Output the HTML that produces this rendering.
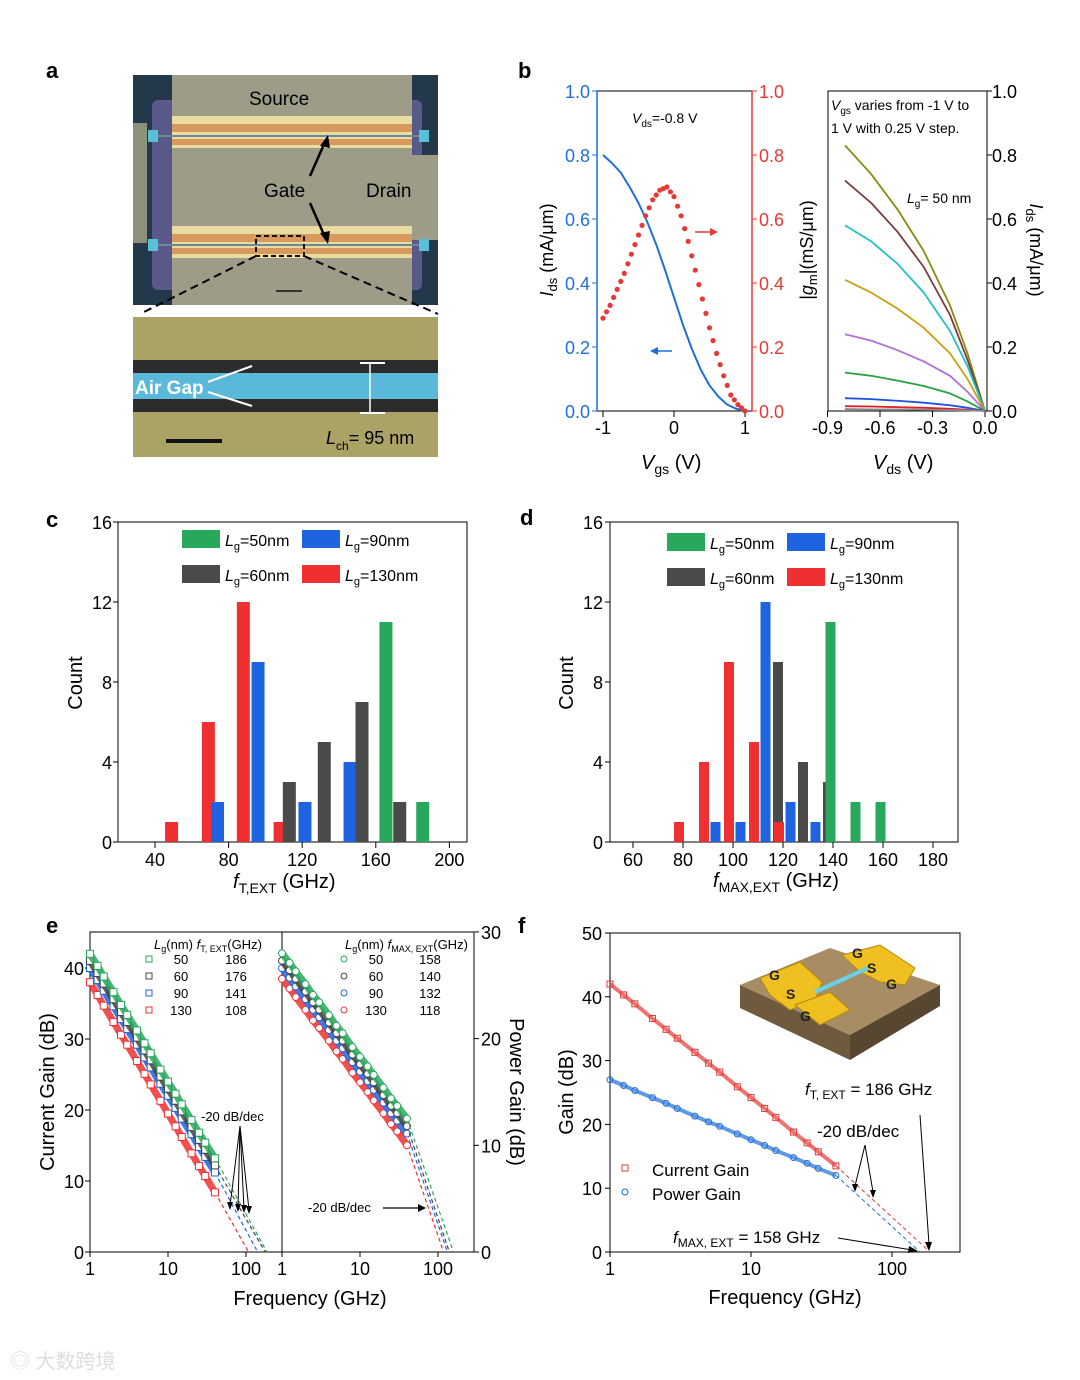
<!DOCTYPE html>
<html><head><meta charset="utf-8"><style>
html,body{margin:0;padding:0;background:#fff;}
svg{display:block;font-family:"Liberation Sans",Arial,sans-serif;}
</style></head><body>
<svg id="fig" width="1080" height="1380" viewBox="0 0 1080 1380" xmlns="http://www.w3.org/2000/svg">
<g font-size="22" font-weight="bold">
<text x="46" y="78">a</text>
<text x="518" y="78">b</text>
<text x="46" y="527">c</text>
<text x="520" y="525">d</text>
<text x="46" y="933">e</text>
<text x="518" y="933">f</text>
</g>
<!-- panel a -->
<g>
<rect x="133" y="75" width="305" height="230" fill="#23384a"/>
<rect x="152" y="100" width="270" height="190" rx="6" fill="#5a5a8a"/>
<rect x="133" y="123" width="14" height="120" fill="#8c917c"/>
<rect x="172" y="75" width="240" height="230" fill="#9c9c88"/>
<rect x="412" y="155" width="26" height="85" fill="#9c9c88"/>
<rect x="172" y="116" width="240" height="32" fill="#eadca0"/>
<rect x="172" y="124" width="240" height="8" fill="#d89a5c"/>
<rect x="172" y="139" width="240" height="6" fill="#d89a5c"/>
<rect x="172" y="226" width="240" height="32" fill="#eadca0"/>
<rect x="172" y="234" width="240" height="8" fill="#d89a5c"/>
<rect x="172" y="248" width="240" height="6" fill="#d89a5c"/>
<line x1="152" y1="136" x2="425" y2="136" stroke="#6a8a98" stroke-width="2"/>
<line x1="152" y1="245" x2="425" y2="245" stroke="#6a8a98" stroke-width="2"/>
<rect x="148" y="130" width="10" height="12" fill="#5ac0d8"/>
<rect x="419" y="130" width="10" height="12" fill="#5ac0d8"/>
<rect x="148" y="239" width="10" height="12" fill="#5ac0d8"/>
<rect x="419" y="239" width="10" height="12" fill="#5ac0d8"/>
<rect x="256" y="236" width="48" height="20" fill="none" stroke="#111" stroke-width="2" stroke-dasharray="5,3"/>
<line x1="276" y1="291" x2="302" y2="291" stroke="#333" stroke-width="2"/>
<text x="249" y="105" font-size="19">Source</text>
<text x="264" y="197" font-size="19">Gate</text>
<text x="366" y="197" font-size="19">Drain</text>
<line x1="310" y1="176" x2="325" y2="142" stroke="#000" stroke-width="2.5"/>
<polygon points="328,135 320,146 330,148" fill="#000"/>
<line x1="310" y1="203" x2="325" y2="237" stroke="#000" stroke-width="2.5"/>
<polygon points="328,244 320,233 330,231" fill="#000"/>
<line x1="256" y1="256" x2="140" y2="314" stroke="#000" stroke-width="2" stroke-dasharray="8,5"/>
<line x1="304" y1="256" x2="438" y2="314" stroke="#000" stroke-width="2" stroke-dasharray="8,5"/>
</g>
<g>
<rect x="133" y="317" width="305" height="140" fill="#a89a60"/>
<rect x="133" y="317" width="305" height="140" fill="#b0b070" opacity="0.4"/>
<rect x="133" y="360" width="305" height="52" fill="#2c2c2c"/>
<rect x="133" y="373" width="305" height="26" fill="#5ab8d8"/>
<line x1="370" y1="363" x2="370" y2="413" stroke="#fff" stroke-width="1.5"/>
<line x1="360" y1="363" x2="385" y2="363" stroke="#fff" stroke-width="2"/>
<line x1="360" y1="413" x2="385" y2="413" stroke="#fff" stroke-width="2"/>
<text x="135" y="394" font-size="19" font-weight="bold" fill="#fff">Air Gap</text>
<line x1="208" y1="382" x2="252" y2="366" stroke="#fff" stroke-width="2"/>
<line x1="208" y1="392" x2="252" y2="406" stroke="#fff" stroke-width="2"/>
<line x1="166" y1="441" x2="222" y2="441" stroke="#111" stroke-width="4"/>
<text x="326" y="444" font-size="18"><tspan font-style="italic">L</tspan><tspan font-size="12" dy="6">ch</tspan><tspan dy="-6">= 95 nm</tspan></text>
</g>
<!-- panel b text -->
<g font-size="18">
<text x="632" y="123" font-size="14"><tspan font-style="italic">V</tspan><tspan font-size="10" dy="4">ds</tspan><tspan dy="-4">=-0.8 V</tspan></text>
<text transform="translate(553,250) rotate(-90)" text-anchor="middle"><tspan font-style="italic">I</tspan><tspan font-size="13" dy="4">ds</tspan><tspan dy="-4"> (mA/μm)</tspan></text>
<text transform="translate(813,250) rotate(-90)" text-anchor="middle">|<tspan font-style="italic">g</tspan><tspan font-size="13" dy="4">m</tspan><tspan dy="-4">|(mS/μm)</tspan></text>
<text x="641" y="469" font-size="20"><tspan font-style="italic">V</tspan><tspan font-size="14" dy="5">gs</tspan><tspan dy="-5"> (V)</tspan></text>
<text x="873" y="469" font-size="20"><tspan font-style="italic">V</tspan><tspan font-size="14" dy="5">ds</tspan><tspan dy="-5"> (V)</tspan></text>
<text transform="translate(1030,250) rotate(90)" text-anchor="middle"><tspan font-style="italic">I</tspan><tspan font-size="13" dy="4">ds</tspan><tspan dy="-4"> (mA/μm)</tspan></text>
<text x="831" y="110" font-size="14"><tspan font-style="italic">V</tspan><tspan font-size="10" dy="4">gs</tspan><tspan dy="-4"> varies from -1 V to</tspan></text>
<text x="831" y="133" font-size="14">1 V with 0.25 V step.</text>
<text x="907" y="203" font-size="14"><tspan font-style="italic">L</tspan><tspan font-size="10" dy="4">g</tspan><tspan dy="-4">= 50 nm</tspan></text>
</g>
<!-- panel c/d labels -->
<g font-size="20">
<text transform="translate(82,683) rotate(-90)" text-anchor="middle">Count</text>
<text x="233" y="888"><tspan font-style="italic">f</tspan><tspan font-size="14" dy="5">T,EXT</tspan><tspan dy="-5"> (GHz)</tspan></text>
<text transform="translate(573,683) rotate(-90)" text-anchor="middle">Count</text>
<text x="713" y="887"><tspan font-style="italic">f</tspan><tspan font-size="14" dy="5">MAX,EXT</tspan><tspan dy="-5"> (GHz)</tspan></text>
</g>
<!-- panel e labels -->
<g font-size="20">
<text transform="translate(54,1092) rotate(-90)" text-anchor="middle">Current Gain (dB)</text>
<text transform="translate(510,1092) rotate(90)" text-anchor="middle">Power Gain (dB)</text>
<text x="310" y="1305" text-anchor="middle">Frequency (GHz)</text>
<text x="154" y="949" font-size="13"><tspan font-style="italic">L</tspan><tspan font-size="9" dy="3">g</tspan><tspan dy="-3">(nm) </tspan><tspan font-style="italic">f</tspan><tspan font-size="9" dy="3">T, EXT</tspan><tspan dy="-3">(GHz)</tspan></text>
<text x="345" y="949" font-size="13"><tspan font-style="italic">L</tspan><tspan font-size="9" dy="3">g</tspan><tspan dy="-3">(nm) </tspan><tspan font-style="italic">f</tspan><tspan font-size="9" dy="3">MAX, EXT</tspan><tspan dy="-3">(GHz)</tspan></text>
<text x="201" y="1121" font-size="13">-20 dB/dec</text>
<text x="308" y="1212" font-size="13">-20 dB/dec</text>
<line x1="383" y1="1208" x2="420" y2="1208" stroke="#000" stroke-width="1.2"/>
<polygon points="426,1208 418,1204 418,1212" fill="#000"/>
</g>
<!-- panel f labels -->
<g font-size="20">
<text transform="translate(573,1092) rotate(-90)" text-anchor="middle">Gain (dB)</text>
<text x="785" y="1304" text-anchor="middle">Frequency (GHz)</text>
<text x="805" y="1095" font-size="17"><tspan font-style="italic">f</tspan><tspan font-size="12" dy="4">T, EXT</tspan><tspan dy="-4"> = 186 GHz</tspan></text>
<text x="817" y="1137" font-size="17">-20 dB/dec</text>
<text x="673" y="1243" font-size="17"><tspan font-style="italic">f</tspan><tspan font-size="12" dy="4">MAX, EXT</tspan><tspan dy="-4"> = 158 GHz</tspan></text>
<text x="652" y="1176" font-size="17">Current Gain</text>
<text x="652" y="1200" font-size="17">Power Gain</text>
<rect x="622" y="1165" width="6" height="6" fill="none" stroke="#e53935" stroke-width="1"/>
<circle cx="625" cy="1192" r="3" fill="none" stroke="#1e6fd9" stroke-width="1"/>
</g>
<g>
<rect x="735" y="940" width="210" height="125" fill="#fff"/>
<polygon points="740,985 830,948 940,985 850,1035" fill="#a88c64"/>
<polygon points="740,985 850,1035 850,1060 740,1008" fill="#6f5a3e"/>
<polygon points="850,1035 940,985 940,1006 850,1060" fill="#574630"/>
<polygon points="760,978 800,962 822,982 815,1000 790,1010 770,995" fill="#f0c020" stroke="#b08810"/>
<polygon points="842,955 880,945 915,968 905,985 880,982 860,972" fill="#f0c020" stroke="#b08810"/>
<polygon points="795,1005 830,992 850,1010 820,1025" fill="#f0c020" stroke="#b08810"/>
<line x1="815" y1="992" x2="868" y2="968" stroke="#6ad0e8" stroke-width="4"/>
<text x="769" y="980" font-size="14" font-weight="bold" fill="#222">G</text>
<text x="786" y="999" font-size="14" font-weight="bold" fill="#222">S</text>
<text x="800" y="1021" font-size="14" font-weight="bold" fill="#222">G</text>
<text x="852" y="958" font-size="14" font-weight="bold" fill="#222">G</text>
<text x="867" y="973" font-size="14" font-weight="bold" fill="#222">S</text>
<text x="886" y="989" font-size="14" font-weight="bold" fill="#222">G</text>
</g>
<text x="10" y="1368" font-size="20" fill="#ddd" font-family="Liberation Sans, Noto Sans CJK SC, sans-serif">◎ 大数跨境</text>
</svg>
<script>
const NS='http://www.w3.org/2000/svg';
const svg=document.getElementById('fig');
function el(tag,a,p){const e=document.createElementNS(NS,tag);for(const k in a)e.setAttribute(k,a[k]);(p||svg).appendChild(e);return e;}
function txt(x,y,s,a,p){const t=el('text',Object.assign({x:x,y:y,'font-size':18},a||{}),p);t.textContent=s;return t;}

// ===== Panel b data =====
const bVgs=[-1,-0.875,-0.75,-0.625,-0.5,-0.375,-0.25,-0.125,0,0.125,0.25,0.375,0.5,0.625,0.75,0.875,1];
const bIds=[0.80,0.775,0.745,0.70,0.65,0.59,0.52,0.44,0.355,0.27,0.195,0.13,0.08,0.045,0.02,0.007,0.0];
const bGmVgs=[-1,-0.9,-0.8,-0.7,-0.6,-0.5,-0.4,-0.3,-0.2,-0.1,0,0.1,0.2,0.3,0.4,0.5,0.6,0.7,0.8,0.9,1];
const bGm=[0.29,0.33,0.38,0.43,0.49,0.55,0.61,0.66,0.69,0.70,0.67,0.61,0.53,0.44,0.35,0.26,0.18,0.11,0.05,0.02,0.0];
const bVds=[-0.8,-0.65,-0.5,-0.35,-0.2,-0.1,0];
const bOutIds=[
[0.83,0.74,0.63,0.50,0.33,0.18,0],
[0.72,0.65,0.56,0.45,0.30,0.16,0],
[0.58,0.53,0.46,0.37,0.25,0.14,0],
[0.41,0.37,0.32,0.26,0.18,0.10,0],
[0.24,0.22,0.19,0.155,0.11,0.06,0],
[0.12,0.11,0.095,0.078,0.055,0.03,0],
[0.04,0.037,0.032,0.026,0.018,0.01,0],
[0.015,0.014,0.012,0.01,0.007,0.004,0],
[0.006,0.005,0.005,0.004,0.003,0.002,0]];
const bOutColors=['#8a8a10','#7a3b3b','#20c0c8','#c8a010','#b070d8','#2aa040','#1e50e0','#e02020','#888888'];
const bTicks=[0,0.2,0.4,0.6,0.8,1.0];

const bxL=v=>674+v*71, byL=v=>411-v*320;
const bxR=v=>985+v*175, byR=v=>411-v*320;
let g=el('g',{});


el('line',{x1:597,y1:91,x2:752,y2:91,stroke:'#000'},g);
el('line',{x1:597,y1:411,x2:752,y2:411,stroke:'#000'},g);
el('line',{x1:597,y1:91,x2:597,y2:411,stroke:'#1e6fd9','stroke-width':1.5},g);
el('line',{x1:752,y1:91,x2:752,y2:411,stroke:'#e53935','stroke-width':1.5},g);
bTicks.forEach(v=>{
 const y=byL(v);
 el('line',{x1:597,y1:y,x2:592,y2:y,stroke:'#1e6fd9'},g);
 el('line',{x1:752,y1:y,x2:757,y2:y,stroke:'#e53935'},g);
 const t1=txt(590,y+7,v.toFixed(1),{'text-anchor':'end',fill:'#1e6fd9'},g);
 
 
 const t2=txt(759,y+7,v.toFixed(1),{fill:'#e53935'},g);
 
 
});
[-1,0,1].forEach(v=>{
 el('line',{x1:bxL(v),y1:411,x2:bxL(v),y2:417,stroke:'#000'},g);
 const t=txt(bxL(v),434,String(v),{'text-anchor':'middle'},g);
 
 
});
let ids=el('polyline',{points:bVgs.map((v,i)=>bxL(v)+','+byL(bIds[i])).join(' '),fill:'none',stroke:'#1e6fd9','stroke-width':2,'stroke-linejoin':'round'},g);


bGmVgs.forEach((v,i)=>{
 const c=el('circle',{cx:bxL(v),cy:byL(bGm[i]),r:2.6,fill:'#e53935'},g);
 
 
 if(i<bGmVgs.length-1){
  const c2=el('circle',{cx:(bxL(v)+bxL(bGmVgs[i+1]))/2,cy:(byL(bGm[i])+byL(bGm[i+1]))/2,r:2.6,fill:'#e53935'},g);
  
  
 }
});
el('line',{x1:695,y1:232,x2:712,y2:232,stroke:'#e53935','stroke-width':1.5},g);
el('polygon',{points:'718,232 710,228 710,236',fill:'#e53935'},g);
el('line',{x1:672,y1:351,x2:656,y2:351,stroke:'#1e6fd9','stroke-width':1.5},g);
el('polygon',{points:'650,351 658,347 658,355',fill:'#1e6fd9'},g);
g=el('g',{});


el('rect',{x:828,y:91,width:159,height:320,fill:'none',stroke:'#000'},g);
bTicks.forEach(v=>{
 const y=byR(v);
 el('line',{x1:987,y1:y,x2:992,y2:y,stroke:'#000'},g);
 const t=txt(992,y+7,v.toFixed(1),{},g);
 
 
});
[-0.9,-0.6,-0.3,0].forEach(v=>{
 el('line',{x1:bxR(v),y1:411,x2:bxR(v),y2:417,stroke:'#000'},g);
 const t=txt(bxR(v),434,v.toFixed(1),{'text-anchor':'middle'},g);
 
 
});
bOutIds.forEach((s,j)=>{
 const p=el('polyline',{points:bVds.map((v,i)=>bxR(v)+','+byR(s[i])).join(' '),fill:'none',stroke:bOutColors[j],'stroke-width':1.8,'stroke-linejoin':'round'},g);
 
 
});

// ===== Panel c/d histograms =====
const cRed=[[49,1],[69,6],[88,12],[108,1]];
const cBlue=[[74,2],[96,9],[121.5,2],[146,4]];
const cDark=[[113,3],[132,5],[152.5,7],[173,2]];
const cGreen=[[165.5,11],[185.5,2]];
const cXTicks=[40,80,120,160,200];
const dRed=[[78.4,1],[88.4,4],[98.4,9],[108.4,5],[118.4,1]];
const dBlue=[[93,1],[103,1],[113,12],[123,2],[133,1]];
const dDark=[[118,9],[128,4],[138,3]];
const dGreen=[[139,11],[149,2],[159,2]];
const dXTicks=[60,80,100,120,140,160,180];
const countTicks=[0,4,8,12,16];
const COL={red:'#f03030',blue:'#1e64e0',dark:'#4a4a4a',green:'#27a85a'};

function hist(name,x0,x1,xf,xt,bw,series,legX,legY,yLabX){
 const g=el('g',{});
 
 
 const yf=v=>842-v*20;
 el('rect',{x:x0,y:522,width:x1-x0,height:320,fill:'none',stroke:'#000'},g);
 countTicks.forEach(v=>{
  el('line',{x1:x0,y1:yf(v),x2:x0-5,y2:yf(v),stroke:'#000'},g);
  const t=txt(yLabX,yf(v)+7,String(v),{'text-anchor':'end'},g);
  
  
 });
 xt.forEach(v=>{
  el('line',{x1:xf(v),y1:842,x2:xf(v),y2:848,stroke:'#000'},g);
  const t=txt(xf(v),866,String(v),{'text-anchor':'middle'},g);
  
  
 });
 series.forEach(([col,arr])=>{
  arr.forEach(([v,c])=>{
   const r=el('rect',{x:xf(v)-bw/2,y:yf(c),width:bw,height:c*20,fill:COL[col]},g);
   
   
  });
 });
 const leg=[['green','50nm',0,0],['blue','90nm',120,0],['dark','60nm',0,35],['red','130nm',120,35]];
 leg.forEach(([col,lab,dx,dy])=>{
  const r=el('rect',{x:legX+dx,y:legY+dy,width:38,height:18,fill:COL[col]},g);
  
  
  const t=el('text',{x:legX+dx+43,y:legY+dy+16,'font-size':16},g);
  
  
  t.innerHTML='<tspan font-style="italic">L</tspan><tspan font-size="11" dy="4">g</tspan><tspan dy="-4">='+lab+'</tspan>';
 });
}
hist('ft-histogram',118,467,v=>155+(v-40)*1.84,cXTicks,13,[['red',cRed],['blue',cBlue],['dark',cDark],['green',cGreen]],182,530,112);
hist('fmax-histogram',610,958,v=>633+(v-60)*2.5,dXTicks,10,[['blue',dBlue],['dark',dDark],['green',dGreen],['red',dRed]],667,533,603);

// ===== Panel e =====
const eFreq=[1,1.25,1.5,2,2.5,3,4,5,6,8,10,12.5,15,20,25,30,40];
const eCurLg=[50,60,90,130];
const eCur=[
[42,40.3,38.8,36.6,34.8,33.4,31.2,29.4,28,25.7,24,22.3,20.8,18.6,16.8,15.4,13.2],
[41,39.3,37.8,35.6,33.8,32.4,30.2,28.4,27,24.7,23,21.3,19.8,17.6,15.8,14.4,12.2],
[40,38.3,36.8,34.6,32.8,31.4,29.2,27.4,26,23.7,22,20.3,18.8,16.6,14.8,13.4,11.2],
[38,36.2,34.7,32.4,30.6,29.2,26.9,25.1,23.6,21.3,19.5,17.7,16.2,13.9,12.1,10.7,8.4]];
const eFt=[186,176,141,108];
const ePow=[
[28,27.1,26.3,25.1,24.1,23.4,22.2,21.2,20.5,19.2,18.3,17.4,16.6,15.4,14.4,13.7,12.5],
[27.3,26.4,25.6,24.4,23.4,22.7,21.5,20.5,19.8,18.5,17.6,16.7,15.9,14.7,13.7,13,11.8],
[26.6,25.7,24.9,23.7,22.7,22,20.8,19.8,19.1,17.8,16.9,16,15.2,14,13,12.3,11.1],
[25.6,24.7,23.9,22.7,21.7,21,19.8,18.8,18.1,16.8,15.9,15,14.2,13,12,11.3,10]];
const eFmax=[158,140,132,118];
const eColors=['#27a85a','#444','#1e64e0','#f03030'];
const exL=f=>90+Math.log10(f)*78, exR=f=>282+Math.log10(f)*78;
const eyL=v=>1252-v*7.1, eyR=v=>1252-v*10.67;
g=el('g',{});


el('rect',{x:90,y:932,width:384,height:320,fill:'none',stroke:'#000'},g);
el('line',{x1:282,y1:932,x2:282,y2:1252,stroke:'#000'},g);
[0,10,20,30,40].forEach(v=>{
 el('line',{x1:90,y1:eyL(v),x2:85,y2:eyL(v),stroke:'#000'},g);
 const t=txt(84,eyL(v)+7,String(v),{'text-anchor':'end'},g);
 
 
});
[0,10,20,30].forEach(v=>{
 el('line',{x1:474,y1:eyR(v),x2:479,y2:eyR(v),stroke:'#000'},g);
 const t=txt(481,eyR(v)+7,String(v),{},g);
 
 
});
[[1,exL],[10,exL],[100,exL],[1,exR],[10,exR],[100,exR]].forEach(([f,fn])=>{
 el('line',{x1:fn(f),y1:1252,x2:fn(f),y2:1257,stroke:'#000'},g);
 const t=txt(fn(f),1275,String(f),{'text-anchor':'middle'},g);
 
 
});
for(let j=3;j>=0;j--){
 const s=eCur[j], last=s.length-1;
 const d=el('line',{x1:exL(eFreq[last]),y1:eyL(s[last]),x2:exL(eFt[j]),y2:eyL(0),stroke:eColors[j],'stroke-dasharray':'4,3','stroke-width':1.2},g);
 
 
 const p=el('polyline',{points:eFreq.map((f,i)=>exL(f)+','+eyL(s[i])).join(' '),fill:'none',stroke:eColors[j],'stroke-width':7,'stroke-linejoin':'round',opacity:0.85},g);
 
 
 eFreq.forEach((f,i)=>{
  const m=el('rect',{x:exL(f)-3.5,y:eyL(s[i])-3.5,width:7,height:7,fill:'#fff',stroke:eColors[j],'stroke-width':1},g);
  
  
 });
 const q=ePow[j];
 const d2=el('line',{x1:exR(eFreq[last]),y1:eyR(q[last]),x2:exR(eFmax[j]),y2:eyR(0),stroke:eColors[j],'stroke-dasharray':'4,3','stroke-width':1.2},g);
 
 
 const p2=el('polyline',{points:eFreq.map((f,i)=>exR(f)+','+eyR(q[i])).join(' '),fill:'none',stroke:eColors[j],'stroke-width':7,'stroke-linejoin':'round',opacity:0.85},g);
 
 
 eFreq.forEach((f,i)=>{
  const m=el('circle',{cx:exR(f),cy:eyR(q[i]),r:3.5,fill:'#fff',stroke:eColors[j],'stroke-width':1},g);
  
  
 });
}
eCurLg.forEach((lg,j)=>{
 const y=964+j*17;
 const m=el('rect',{x:146,y:y-8,width:6,height:6,fill:'none',stroke:eColors[j]},g);
 
 
 const t1=txt(181,y,String(lg),{'font-size':13,'text-anchor':'middle'},g);
 
 
 const t2=txt(236,y,String(eFt[j]),{'font-size':13,'text-anchor':'middle'},g);
 
 
 const c=el('circle',{cx:344,cy:y-5,r:3,fill:'none',stroke:eColors[j]},g);
 
 
 const t3=txt(376,y,String(lg),{'font-size':13,'text-anchor':'middle'},g);
 
 
 const t4=txt(430,y,String(eFmax[j]),{'font-size':13,'text-anchor':'middle'},g);
 
 
});
[[230,1210],[238,1212],[244,1213],[249,1214]].forEach(([x,y])=>{
 el('line',{x1:240,y1:1126,x2:x,y2:y-4,stroke:'#000','stroke-width':1},g);
 el('polygon',{points:`${x},${y} ${x-3},${y-8} ${x+3},${y-8}`,fill:'#000'},g);
});

// ===== Panel f =====
const fFreq=[1,1.25,1.5,2,2.5,3,4,5,6,8,10,12.5,15,20,25,30,40];
const fCur=[42,40.3,38.9,36.6,34.9,33.5,31.3,29.6,28.2,25.9,24.2,22.5,21.1,18.8,17.1,15.7,13.5];
const fPow=[27,26.1,25.3,24.2,23.3,22.5,21.3,20.4,19.7,18.5,17.6,16.7,15.9,14.8,13.9,13.1,12];
const fFt=186, fFmax=158;
const fx=f=>610+Math.log10(f)*141, fy=v=>1252-v*6.38;
g=el('g',{});


el('rect',{x:610,y:933,width:350,height:319,fill:'none',stroke:'#000'},g);
[0,10,20,30,40,50].forEach(v=>{
 el('line',{x1:610,y1:fy(v),x2:605,y2:fy(v),stroke:'#000'},g);
 const t=txt(602,fy(v)+7,String(v),{'text-anchor':'end'},g);
 
 
});
[1,10,100].forEach(f=>{
 el('line',{x1:fx(f),y1:1252,x2:fx(f),y2:1257,stroke:'#000'},g);
 const t=txt(fx(f),1275,String(f),{'text-anchor':'middle'},g);
 
 
});
const L=fFreq.length-1;
let dl=el('line',{x1:fx(fFreq[L]),y1:fy(fCur[L]),x2:fx(fFt),y2:fy(0),stroke:'#e53935','stroke-dasharray':'4,3'},g);


dl=el('line',{x1:fx(fFreq[L]),y1:fy(fPow[L]),x2:fx(fFmax),y2:fy(0),stroke:'#1e6fd9','stroke-dasharray':'4,3'},g);


let pc=el('polyline',{points:fFreq.map((f,i)=>fx(f)+','+fy(fCur[i])).join(' '),fill:'none',stroke:'#e53935','stroke-width':4,opacity:0.7},g);


pc=el('polyline',{points:fFreq.map((f,i)=>fx(f)+','+fy(fPow[i])).join(' '),fill:'none',stroke:'#1e6fd9','stroke-width':4,opacity:0.7},g);


fFreq.forEach((f,i)=>{
 const m=el('rect',{x:fx(f)-3,y:fy(fCur[i])-3,width:6,height:6,fill:'none',stroke:'#e53935'},g);
 
 
 const c=el('circle',{cx:fx(f),cy:fy(fPow[i]),r:3,fill:'none',stroke:'#1e6fd9'},g);
 
 
});
[[855,1192],[873,1198]].forEach(([x,y])=>{
 el('line',{x1:865,y1:1145,x2:x,y2:y-6,stroke:'#000'},g);
 el('polygon',{points:`${x},${y} ${x-3},${y-8} ${x+3},${y-8}`,fill:'#000'},g);
});
el('line',{x1:920,y1:1115,x2:929,y2:1244,stroke:'#000'},g);
el('polygon',{points:'929,1251 925,1242 932,1242',fill:'#000'},g);
el('line',{x1:838,y1:1238,x2:912,y2:1250,stroke:'#000'},g);
el('polygon',{points:'918,1251 909,1246 908,1253',fill:'#000'},g);
</script>
</body></html>
